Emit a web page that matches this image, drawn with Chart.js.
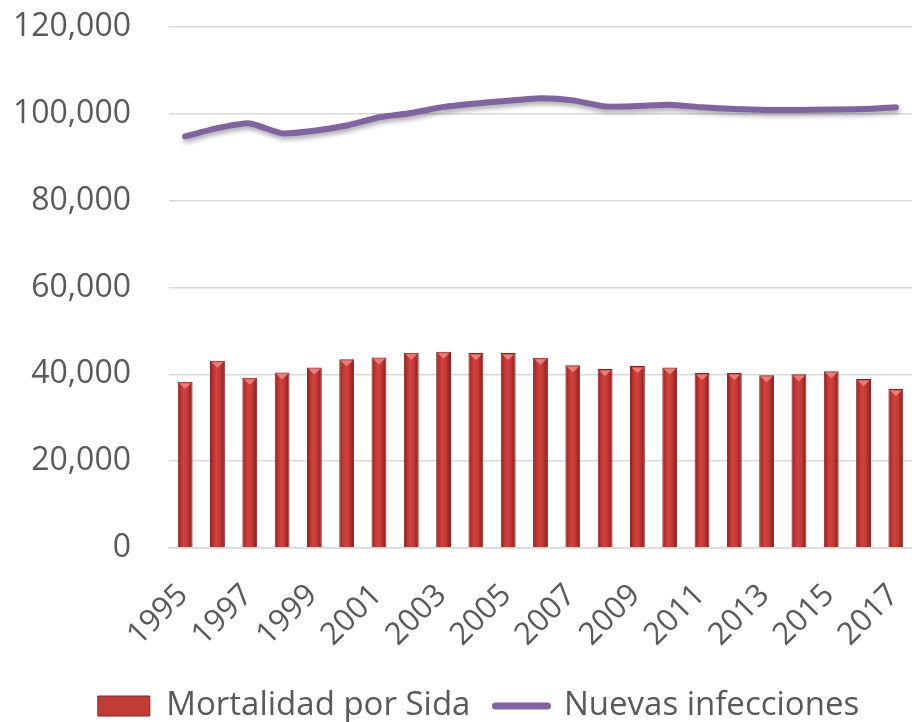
<!DOCTYPE html>
<html>
<head>
<meta charset="utf-8">
<script src="https://cdn.jsdelivr.net/npm/chart.js@4/dist/chart.umd.min.js"></script>
<style>
  html, body { margin: 0; padding: 0; background: #ffffff; }
  #wrap { width: 912px; height: 722px; position: relative; }
</style>
</head>
<body>
<div id="wrap"><canvas id="c" width="912" height="722"></canvas></div>
<script>
const years = ["1995","1996","1997","1998","1999","2000","2001","2002","2003","2004","2005","2006","2007","2008","2009","2010","2011","2012","2013","2014","2015","2016","2017"];
const mortalidad = [38300, 43100, 39200, 40400, 41600, 43500, 43900, 45000, 45200, 44900, 44900, 43800, 42100, 41200, 41900, 41600, 40300, 40300, 39800, 40000, 40700, 38900, 36600];
const infecciones = [94800, 96700, 97800, 95500, 96100, 97300, 99200, 100200, 101600, 102400, 103000, 103600, 103100, 101700, 101800, 102100, 101500, 101100, 100900, 100900, 101000, 101100, 101500];
const seriesNames = ["Mortalidad por Sida", "Nuevas infecciones"];

const FONT = "'Open Sans', 'Liberation Sans', sans-serif";
const TEXT = "#595959";
const BAR_PCT = 0.46;
const LEFT_PAD = 15;
const PLOT_LEFT = 169;

function barGradient(ctx, x, w) {
  const g = ctx.createLinearGradient(x - w / 2, 0, x + w / 2, 0);
  g.addColorStop(0, "#7d1a18");
  g.addColorStop(0.18, "#b8302d");
  g.addColorStop(0.4, "#d1423e");
  g.addColorStop(0.65, "#c33a36");
  g.addColorStop(0.88, "#9e2522");
  g.addColorStop(1, "#6e1412");
  return g;
}

const barDeco = {
  id: "barDeco",
  afterDatasetDraw(chart, args) {
    if (args.index !== 0) return;
    const ctx = chart.ctx;
    const meta = chart.getDatasetMeta(0);
    ctx.save();
    meta.data.forEach(el => {
      const w = el.width, x = el.x, top = el.y;
      ctx.beginPath();
      ctx.moveTo(x - w / 2 + 1.5, top + 1.5);
      ctx.lineTo(x + w / 2 - 1.5, top + 1.5);
      ctx.lineTo(x, top + 7);
      ctx.closePath();
      ctx.fillStyle = "#f07a76";
      ctx.fill();
    });
    ctx.restore();
  }
};

const lineShadow = {
  id: "lineShadow",
  beforeDatasetDraw(chart, args) {
    if (args.index !== 1) return;
    const ctx = chart.ctx;
    ctx.save();
    ctx.shadowColor = "rgba(0,0,0,0.35)";
    ctx.shadowBlur = 5;
    ctx.shadowOffsetX = 1;
    ctx.shadowOffsetY = 3;
  },
  afterDatasetDraw(chart, args) {
    if (args.index !== 1) return;
    chart.ctx.restore();
  }
};

new Chart(document.getElementById("c"), {
  type: "bar",
  data: {
    labels: years,
    datasets: [
      {
        type: "bar",
        label: seriesNames[0],
        data: mortalidad,
        backgroundColor: (c) => {
          const sx = c.chart.scales && c.chart.scales.x;
          if (!sx || c.dataIndex === undefined) return "#c0392f";
          const x = sx.getPixelForValue(c.dataIndex);
          const w = sx.width / years.length * BAR_PCT;
          return barGradient(c.chart.ctx, x, w);
        },
        borderColor: "#8a2220",
        borderWidth: 1,
        categoryPercentage: 1,
        barPercentage: BAR_PCT
      },
      {
        type: "line",
        label: seriesNames[1],
        data: infecciones,
        borderColor: "#8064a2",
        backgroundColor: "#8064a2",
        borderWidth: 6,
        borderCapStyle: "round",
        borderJoinStyle: "round",
        tension: 0.2,
        pointRadius: 0,
        fill: false
      }
    ]
  },
  options: {
    responsive: false,
    animation: false,
    layout: { padding: { top: 0, left: LEFT_PAD, right: -30, bottom: -10.5 } },
    plugins: {
      tooltip: { enabled: false },
      legend: {
        position: "bottom",
        labels: {
          color: TEXT,
          font: { family: FONT, size: 33 },
          usePointStyle: true,
          pointStyleWidth: 52,
          boxHeight: 20,
          padding: 25,
          generateLabels: () => [
            {
              text: seriesNames[0], pointStyle: "rect",
              fillStyle: "#c23b37", strokeStyle: "#8a2220",
              lineWidth: 1, datasetIndex: 0, fontColor: TEXT
            },
            {
              text: seriesNames[1], pointStyle: "line",
              fillStyle: "#8064a2", strokeStyle: "#8064a2",
              lineWidth: 7, lineCap: "round", datasetIndex: 1, fontColor: TEXT
            }
          ]
        }
      }
    },
    scales: {
      x: {
        offset: true,
        grid: { display: false, drawTicks: false },
        border: { display: true, color: "#d9d9d9", width: 1.5 },
        afterFit: (s) => { s.paddingLeft = 0; s.paddingRight = 0; s.height = 116.5; },
        ticks: {
          color: TEXT,
          font: { family: FONT, size: 31 },
          minRotation: 45,
          maxRotation: 45,
          autoSkip: false,
          padding: 29,
          labelOffset: -2,
          callback: function (v, i) { return i % 2 === 0 ? years[i] : ""; }
        }
      },
      y: {
        min: 0,
        max: 120000,
        grid: { color: "#d9d9d9", lineWidth: 1.5, drawTicks: false },
        border: { display: false },
        afterFit: (s) => { s.paddingTop = 27; s.paddingBottom = 0; s.width = PLOT_LEFT - LEFT_PAD; },
        ticks: {
          stepSize: 20000,
          color: TEXT,
          font: { family: FONT, size: 32 },
          padding: 38
        }
      }
    }
  },
  plugins: [barDeco, lineShadow]
});
</script>
</body>
</html>
